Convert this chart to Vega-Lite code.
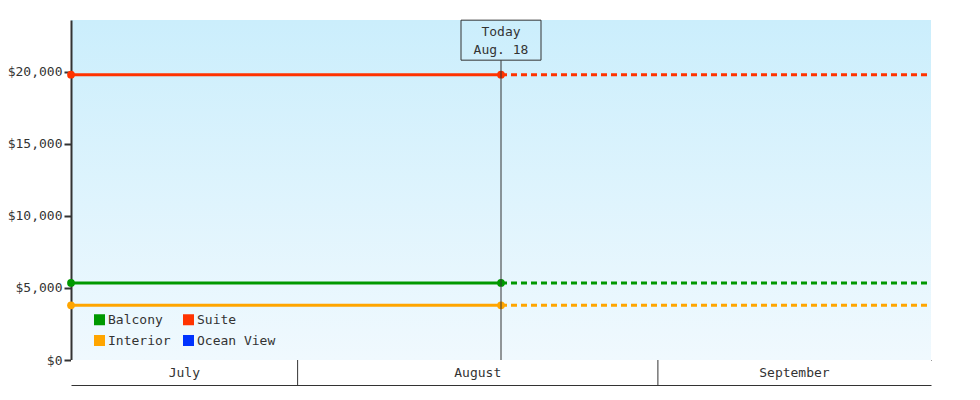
{
  "$schema": "https://vega.github.io/schema/vega-lite/v6.json",
  "background": "white",
  "padding": {"left": 5, "top": 18, "right": 0, "bottom": 0},
  "spacing": 0,
  "bounds": "flush",
  "datasets": {
    "prices": [
      {"cabin": "Suite", "date": "2024-07-12T12:00", "price": 19800, "part": "actual"},
      {"cabin": "Suite", "date": "2024-08-18T12:00", "price": 19800, "part": "actual"},
      {"cabin": "Suite", "date": "2024-08-18T12:00", "price": 19800, "part": "projected"},
      {"cabin": "Suite", "date": "2024-09-24T12:00", "price": 19800, "part": "projected"},
      {"cabin": "Balcony", "date": "2024-07-12T12:00", "price": 5350, "part": "actual"},
      {"cabin": "Balcony", "date": "2024-08-18T12:00", "price": 5350, "part": "actual"},
      {"cabin": "Balcony", "date": "2024-08-18T12:00", "price": 5350, "part": "projected"},
      {"cabin": "Balcony", "date": "2024-09-24T12:00", "price": 5350, "part": "projected"},
      {"cabin": "Interior", "date": "2024-07-12T12:00", "price": 3800, "part": "actual"},
      {"cabin": "Interior", "date": "2024-08-18T12:00", "price": 3800, "part": "actual"},
      {"cabin": "Interior", "date": "2024-08-18T12:00", "price": 3800, "part": "projected"},
      {"cabin": "Interior", "date": "2024-09-24T12:00", "price": 3800, "part": "projected"}
    ],
    "today": [
      {"date": "2024-08-18T12:00", "label": "Today\nAug. 18"}
    ],
    "months": [
      {"month": "July", "start": "2024-07-12T12:00", "labelDate": "2024-07-22T06:00"},
      {"month": "August", "start": "2024-08-01T00:00", "labelDate": "2024-08-16T12:00"},
      {"month": "September", "start": "2024-09-01T00:00", "labelDate": "2024-09-12T18:00"}
    ]
  },
  "vconcat": [
    {
      "width": 860,
      "height": 340,
      "view": {
        "stroke": null,
        "fill": {
          "gradient": "linear",
          "x1": 0, "y1": 0, "x2": 0, "y2": 1,
          "stops": [
            {"offset": 0, "color": "#cbeefc"},
            {"offset": 1, "color": "#f0f9fe"}
          ]
        }
      },
      "layer": [
        {
          "data": {"name": "prices"},
          "encoding": {
            "x": {"field": "date", "type": "temporal"},
            "y": {"field": "price", "type": "quantitative"},
            "color": {
              "field": "cabin",
              "type": "nominal",
              "scale": {
                "domain": ["Balcony", "Suite", "Interior", "Ocean View"],
                "range": ["#009900", "#ff3300", "#ffa500", "#0033ff"]
              },
              "legend": {
                "title": null,
                "orient": "none",
                "direction": "horizontal",
                "legendX": 22,
                "legendY": 293,
                "columns": 2,
                "columnPadding": 11,
                "rowPadding": 7,
                "symbolType": "square",
                "symbolSize": 121,
                "symbolStrokeWidth": 0,
                "symbolOpacity": 1,
                "labelOffset": 2,
                "labelFontSize": 13,
                "labelColor": "#333333"
              }
            }
          },
          "layer": [
            {
              "transform": [{"filter": "datum.part === 'actual'"}],
              "mark": {"type": "line", "strokeWidth": 3}
            },
            {
              "transform": [{"filter": "datum.part === 'projected'"}],
              "mark": {"type": "line", "strokeWidth": 3, "strokeDash": [6, 4]}
            },
            {
              "transform": [{"filter": "datum.part === 'actual'"}],
              "mark": {"type": "point", "filled": true, "size": 60, "opacity": 1}
            }
          ]
        },
        {
          "data": {"name": "today"},
          "mark": {"type": "rule", "color": "#333333", "strokeWidth": 1},
          "encoding": {
            "x": {"field": "date", "type": "temporal"},
            "y": {"datum": 0},
            "y2": {"datum": 20800}
          }
        },
        {
          "data": {"name": "today"},
          "mark": {
            "type": "point",
            "shape": "M-1,-0.5H1V0.5H-1Z",
            "size": 6400,
            "filled": false,
            "stroke": "#333333",
            "strokeWidth": 1,
            "opacity": 1
          },
          "encoding": {
            "x": {"field": "date", "type": "temporal"},
            "y": {"datum": 22200}
          }
        },
        {
          "data": {"name": "today"},
          "mark": {
            "type": "text",
            "lineBreak": "\n",
            "lineHeight": 18,
            "fontSize": 13,
            "color": "#333333",
            "baseline": "middle",
            "dy": -8
          },
          "encoding": {
            "x": {"field": "date", "type": "temporal"},
            "y": {"datum": 22200},
            "text": {"field": "label"}
          }
        }
      ],
      "encoding": {
        "x": {
          "field": "date",
          "type": "temporal",
          "scale": {
            "domain": [
              {"year": 2024, "month": 7, "date": 12, "hours": 12},
              {"year": 2024, "month": 9, "date": 24, "hours": 12}
            ]
          },
          "axis": {
            "title": null,
            "labels": false,
            "ticks": false,
            "grid": false,
            "domainColor": "#333333",
            "domainWidth": 1,
            "minExtent": 0,
            "maxExtent": 0
          }
        },
        "y": {
          "type": "quantitative",
          "scale": {"domain": [0, 23600], "nice": false},
          "axis": {
            "title": null,
            "values": [0, 5000, 10000, 15000, 20000],
            "format": "$,.0f",
            "grid": false,
            "domainColor": "#333333",
            "domainWidth": 2,
            "tickColor": "#333333",
            "tickWidth": 2,
            "tickSize": 7,
            "labelPadding": 2,
            "minExtent": 66,
            "maxExtent": 66
          }
        }
      }
    },
    {
      "width": 860,
      "height": 25,
      "view": {"stroke": null, "fill": "white"},
      "data": {"name": "months"},
      "layer": [
        {
          "transform": [{"filter": "datum.month !== 'July'"}],
          "mark": {"type": "rule", "color": "#333333", "strokeWidth": 1},
          "encoding": {
            "x": {"field": "start", "type": "temporal"}
          }
        },
        {
          "mark": {"type": "text", "fontSize": 13, "color": "#333333", "baseline": "middle"},
          "encoding": {
            "x": {"field": "labelDate", "type": "temporal"},
            "text": {"field": "month"}
          }
        }
      ],
      "encoding": {
        "x": {
          "type": "temporal",
          "scale": {
            "domain": [
              {"year": 2024, "month": 7, "date": 12, "hours": 12},
              {"year": 2024, "month": 9, "date": 24, "hours": 12}
            ]
          },
          "axis": {
            "title": null,
            "labels": false,
            "ticks": false,
            "grid": false,
            "domainColor": "#333333",
            "domainWidth": 1,
            "minExtent": 0,
            "maxExtent": 0
          }
        }
      }
    }
  ],
  "config": {
    "font": "DejaVu Sans Mono",
    "axis": {"labelFontSize": 13, "labelColor": "#333333", "labelFont": "DejaVu Sans Mono"},
    "legend": {"labelFont": "DejaVu Sans Mono"},
    "text": {"font": "DejaVu Sans Mono"}
  }
}
